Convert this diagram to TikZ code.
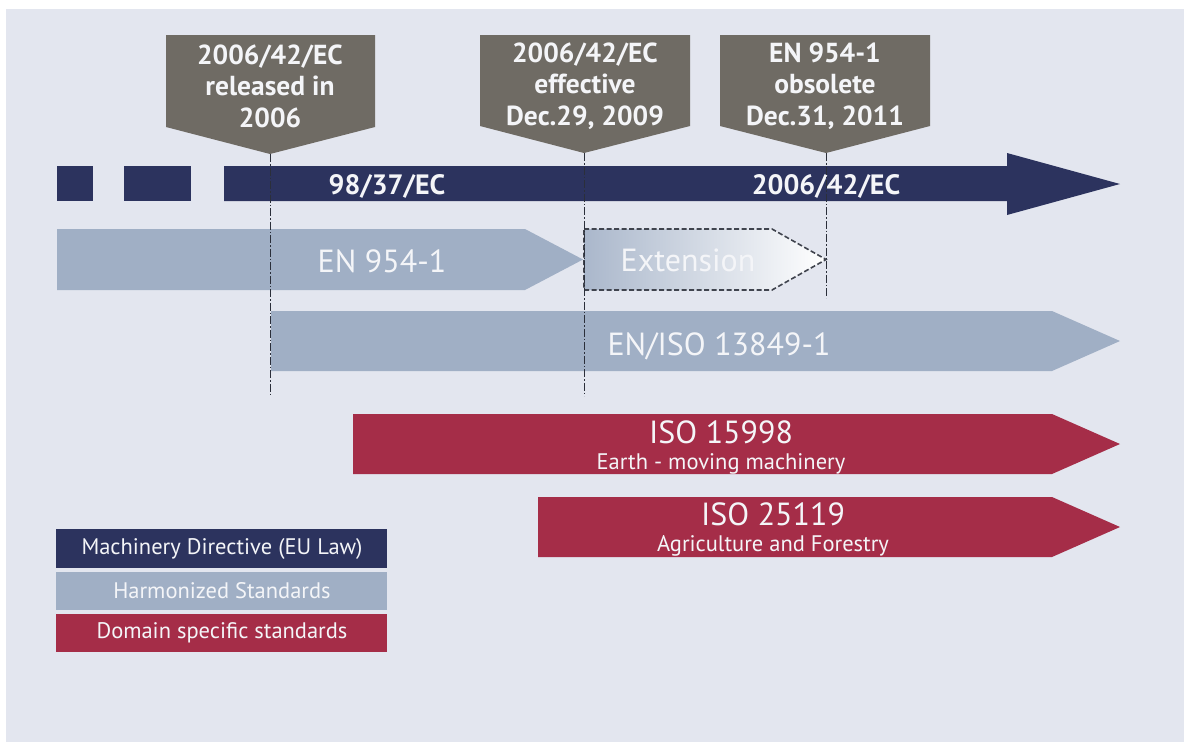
\documentclass[tikz,border=0pt]{standalone}
\usepackage{fontspec}
\setmainfont{PT Sans}
\definecolor{bgc}{HTML}{E3E6EF}
\definecolor{navy}{HTML}{2C335E}
\definecolor{lightbar}{HTML}{A0AFC5}
\definecolor{redbar}{HTML}{A52D48}
\definecolor{calloutc}{HTML}{6F6B64}
\definecolor{guidec}{HTML}{2B2F3A}
\definecolor{txt}{HTML}{F4F5F8}
\tikzset{
  callout/.style={fill=calloutc},
  callouttext/.style={text=txt, align=center, inner sep=0pt,
    font=\bfseries\fontsize{27.5}{31.5}\selectfont},
  lawtext/.style={text=txt, inner sep=0pt, anchor=base, font=\bfseries\fontsize{28}{32}\selectfont},
  stdtext/.style={text=txt, inner sep=0pt, anchor=base, font=\fontsize{32}{36}\selectfont},
  subtext/.style={text=txt, inner sep=0pt, anchor=base, font=\fontsize{22.5}{26}\selectfont},
  legtext/.style={text=txt, inner sep=0pt, font=\fontsize{22.5}{26}\selectfont},
  guide/.style={draw=guidec, line width=0.9pt, dash pattern=on 8pt off 2pt on 1.5pt off 2pt},
  extborder/.style={draw=guidec!90, line width=1.6pt, dash pattern=on 5pt off 2.5pt},
}
\begin{document}
\begin{tikzpicture}[x=1pt,y=-1pt]
\useasboundingbox (0,0) rectangle (1184,742);
\fill[white] (0,0) rectangle (1184,742);
\fill[bgc] (6,9) rectangle (1184,742);

% directive timeline
\fill[navy] (57,166) rectangle (93,201);
\fill[navy] (124,166) rectangle (191,201);
\fill[navy] (224,166) -- (1007,166) -- (1007,153) -- (1120,184) -- (1007,215)
  -- (1007,201) -- (224,201) -- cycle;
\node[lawtext] (law1) at (387,194) {98/37/EC};
\node[lawtext] (law2) at (826,194) {2006/42/EC};

% harmonized standards
\fill[lightbar] (57,229) -- (525,229) -- (583,259.5) -- (525,290) -- (57,290) -- cycle;
\node[stdtext] (en954) at (382,272) {EN 954-1};
\shade[left color=lightbar!85!bgc, right color=white]
  (584,229) -- (772,229) -- (826,259.5) -- (772,290) -- (584,290) -- cycle;
\draw[extborder] (584,229) -- (772,229) -- (826,259.5) -- (772,290) -- (584,290) -- cycle;
\node[stdtext] (ext) at (688,271) {Extension};
\fill[lightbar] (271,311) -- (1052,311) -- (1120,341) -- (1052,371) -- (271,371) -- cycle;
\node[stdtext] (iso13849) at (719,355) {EN/ISO 13849-1};

% domain specific standards
\fill[redbar] (353,414) -- (1052,414) -- (1120,444) -- (1052,474) -- (353,474) -- cycle;
\node[stdtext] (iso15998) at (721,443) {ISO 15998};
\node[subtext] (earth) at (721,469) {Earth - moving machinery};
\fill[redbar] (538,497) -- (1052,497) -- (1120,527) -- (1052,557) -- (538,557) -- cycle;
\node[stdtext] (iso25119) at (773,525) {ISO 25119};
\node[subtext] (agri) at (773,551) {Agriculture and Forestry};

% milestone callouts
\fill[callout] (166,35) -- (375,35) -- (375,127) -- (270,154) -- (166,127) -- cycle;
\coordinate (tip1) at (270,154);
\node[callouttext] (m1) at (270,86) {2006/42/EC\\released in\\2006};
\fill[callout] (480,35) -- (690,35) -- (690,126) -- (584,153) -- (480,126) -- cycle;
\coordinate (tip2) at (584,153);
\node[callouttext] (m2) at (585,86) {2006/42/EC\\effective\\Dec.29, 2009};
\fill[callout] (720,35) -- (930,35) -- (930,126) -- (826,153) -- (720,126) -- cycle;
\coordinate (tip3) at (826,153);
\node[callouttext] (m3) at (825,86) {EN 954-1\\obsolete\\Dec.31, 2011};

% milestone guide lines
\coordinate (end1) at (270,396);
\coordinate (end2) at (584,396);
\coordinate (end3) at (826,298);
\draw[guide] (tip1) -- (end1);
\draw[guide] (tip2) -- (end2);
\draw[guide] (tip3) -- (end3);

% legend
\fill[navy] (56,529) rectangle (387,568);
\node[legtext] (leg1) at (222,549) {Machinery Directive (EU Law)};
\fill[lightbar] (56,572) rectangle (387,610);
\node[legtext] (leg2) at (222,591) {Harmonized Standards};
\fill[redbar] (56,614) rectangle (387,652);
\node[legtext] (leg3) at (222,633) {Domain specific standards};
\end{tikzpicture}
\end{document}
